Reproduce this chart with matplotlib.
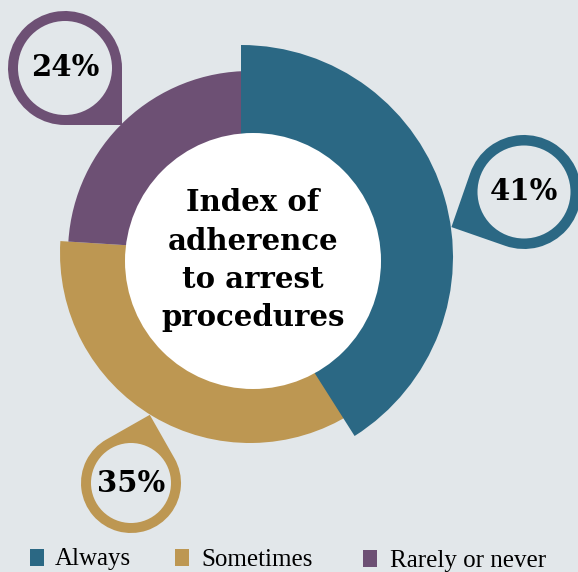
import numpy as np
import matplotlib.pyplot as plt
from matplotlib.patches import Wedge, Circle, PathPatch, Rectangle
from matplotlib.path import Path

# data
categories = ["Always", "Sometimes", "Rarely or never"]
shares = [41, 35, 24]
center_title = ["Index of", "adherence", "to arrest", "procedures"]

# colours
BG = "#E2E7EA"
colors = ["#2B6884", "#BD9752", "#6D5074"]

# layout, in pixels (y goes down)
wedge_center = [(241, 257), (250, 253), (250, 253)]
wedge_radius = [212, 190, 182]
wedge_z = [4, 2, 3]
hole_center, hole_radius = (253, 261), 128

callout_center = [(524, 192), (131, 483), (65, 68)]
callout_outer = [57, 50, 57]
callout_inner = [46.5, 40, 47]
callout_dir = [154.2, -74.6, 45]     # direction of the tail tip, degrees

title_baselines = [211, 250, 288.5, 326]
legend_box_x = [29.5, 175, 363]
legend_text_x = [54.5, 201, 390]
legend_baseline = [565.5, 565.5, 566.5]


def teardrop(cx, cy, R, ang):
    arc = Path.arc(ang + 45, ang + 315)
    verts = arc.vertices * R + [cx, cy]
    a = np.radians(ang)
    tip = [cx + R * np.sqrt(2) * np.cos(a), cy + R * np.sqrt(2) * np.sin(a)]
    verts = np.vstack([verts, tip, verts[0]])
    codes = list(arc.codes) + [Path.LINETO, Path.CLOSEPOLY]
    return Path(verts, codes)


fig = plt.figure(figsize=(5.78, 5.72), dpi=100, facecolor=BG)
ax = fig.add_axes([0, 0, 1, 1])
ax.set_xlim(0, 578)
ax.set_ylim(572, 0)
ax.axis("off")

# donut slices, clockwise from the top
total = sum(shares)
start = -90
for i, v in enumerate(shares):
    end = start + v / total * 360
    ax.add_patch(Wedge(wedge_center[i], wedge_radius[i], start, end,
                       facecolor=colors[i], edgecolor="none", zorder=wedge_z[i]))
    start = end

ax.add_patch(Circle(hole_center, hole_radius, facecolor="white",
                    edgecolor="none", zorder=5))

for i, line in enumerate(center_title):
    ax.text(hole_center[0], title_baselines[i], line, ha="center", va="baseline",
            fontsize=21, fontweight="bold", family="DejaVu Serif", zorder=6)

# callout bubbles
for i, v in enumerate(shares):
    cx, cy = callout_center[i]
    ax.add_patch(PathPatch(teardrop(cx, cy, callout_outer[i], callout_dir[i]),
                           facecolor=colors[i], edgecolor="none", zorder=6))
    ax.add_patch(Circle((cx, cy), callout_inner[i], facecolor=BG,
                        edgecolor="none", zorder=7))
    ax.text(cx, cy, f"{v}%", ha="center", va="center", fontsize=21,
            fontweight="bold", family="DejaVu Serif", zorder=8)

# legend
for i, cat in enumerate(categories):
    ax.add_patch(Rectangle((legend_box_x[i], legend_baseline[i] - 16.5), 14, 17,
                           facecolor=colors[i], edgecolor="none"))
    ax.text(legend_text_x[i], legend_baseline[i], cat, ha="left", va="baseline",
            fontsize=18, family="Liberation Serif")

fig.savefig("out.png", dpi=100, facecolor=BG)
